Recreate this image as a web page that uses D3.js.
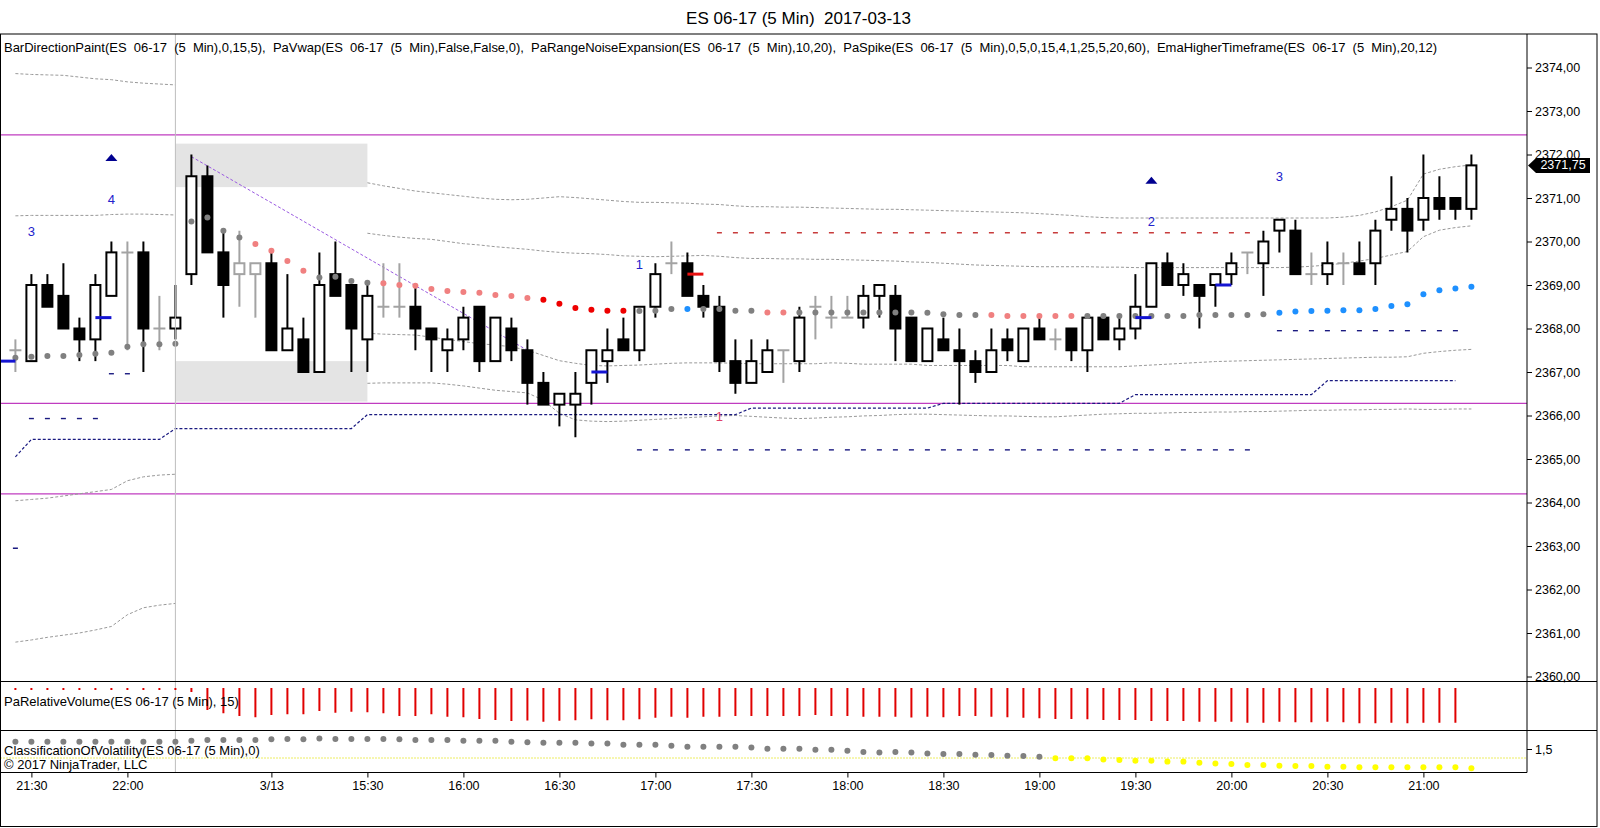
<!DOCTYPE html>
<html>
<head>
<meta charset="utf-8">
<script src="https://cdn.jsdelivr.net/npm/d3@7"></script>
<style>
  body { margin: 0; background: #fff; }
  text { font-family: "Liberation Sans", Arial, sans-serif; }
</style>
</head>
<body>
<div id="chart"></div>
<script>
// ---- price bars (5 min), index 0 = 21:25 of the evening session ----
const opens = [2367.5, 2367.25, 2369.0, 2368.75, 2368.0, 2367.75, 2368.75, 2369.75, 2369.75, 2368.0, 2368.0,
  2369.25, 2371.5, 2369.75, 2369.25, 2369.25, 2369.5, 2367.5, 2367.75, 2367.0, 2369.25, 2369.0,
  2367.75, 2368.5, 2368.5, 2368.5, 2368.0, 2367.5, 2367.75, 2368.5, 2367.25, 2368.0,
  2367.5, 2366.75, 2366.25, 2366.25, 2366.75, 2367.25, 2367.75, 2367.5, 2368.5, 2369.5,
  2369.5, 2368.75, 2368.5, 2367.25, 2366.75, 2367.0, 2367.5, 2367.25, 2368.5, 2368.25,
  2368.25, 2368.25, 2368.75, 2368.75, 2368.25, 2367.25, 2367.75, 2367.5, 2367.25, 2367.0,
  2367.75, 2367.25, 2368.0, 2367.75, 2368.0, 2367.5, 2368.25, 2367.75, 2368.0, 2368.5,
  2369.5, 2369.0, 2369.0, 2369.0, 2369.25, 2369.75, 2369.5, 2370.25, 2370.25, 2369.25,
  2369.25, 2369.5, 2369.5, 2369.5, 2370.5, 2370.75, 2370.5, 2371.0, 2371.0, 2370.75];
const highs = [2367.75, 2369.25, 2369.25, 2369.5, 2368.25, 2369.25, 2370.0, 2370.0, 2370.0, 2368.75, 2369.0,
  2372.0, 2371.75, 2370.25, 2370.25, 2369.5, 2369.75, 2369.25, 2368.25, 2369.75, 2370.0, 2369.0,
  2369.0, 2369.5, 2369.5, 2369.0, 2368.0, 2368.0, 2368.5, 2368.5, 2368.25, 2368.25,
  2367.75, 2367.0, 2366.5, 2367.0, 2367.5, 2368.0, 2368.25, 2368.5, 2369.5, 2370.0,
  2369.75, 2369.0, 2368.75, 2367.75, 2367.75, 2367.75, 2367.5, 2368.5, 2368.75, 2368.75,
  2368.75, 2369.0, 2369.0, 2369.0, 2368.25, 2368.0, 2368.25, 2368.0, 2367.5, 2368.0,
  2368.0, 2368.0, 2368.25, 2368.0, 2368.0, 2368.25, 2368.25, 2368.25, 2369.25, 2369.5,
  2369.75, 2369.5, 2369.0, 2369.25, 2369.75, 2369.75, 2370.25, 2370.5, 2370.5, 2369.75,
  2370.0, 2369.75, 2370.0, 2370.5, 2371.5, 2371.0, 2372.0, 2371.5, 2371.0, 2372.0];
const lows = [2367.0, 2367.25, 2368.5, 2368.0, 2367.25, 2367.25, 2368.75, 2367.5, 2367.0, 2367.5, 2367.75,
  2369.0, 2369.75, 2368.25, 2368.5, 2368.25, 2367.5, 2367.5, 2367.0, 2367.0, 2368.75, 2367.0,
  2367.0, 2368.25, 2368.25, 2367.5, 2367.0, 2367.0, 2367.5, 2367.0, 2367.25, 2367.25,
  2366.25, 2366.25, 2365.75, 2365.5, 2366.25, 2366.75, 2367.5, 2367.25, 2368.25, 2369.25,
  2368.75, 2368.25, 2367.0, 2366.5, 2366.75, 2367.0, 2366.75, 2367.0, 2367.75, 2368.0,
  2368.25, 2368.0, 2368.25, 2367.25, 2367.25, 2367.25, 2367.5, 2366.25, 2366.75, 2367.0,
  2367.25, 2367.25, 2367.75, 2367.5, 2367.25, 2367.0, 2367.75, 2367.5, 2367.75, 2368.5,
  2369.0, 2368.75, 2368.0, 2368.5, 2369.0, 2369.25, 2368.75, 2369.75, 2369.25, 2369.0,
  2369.0, 2369.0, 2369.25, 2369.0, 2370.25, 2369.75, 2370.25, 2370.5, 2370.5, 2370.5];
const closes = [2367.5, 2369.0, 2368.5, 2368.0, 2367.75, 2369.0, 2369.75, 2369.75, 2368.0, 2368.0, 2368.25,
  2371.5, 2369.75, 2369.0, 2369.5, 2369.5, 2367.5, 2368.0, 2367.0, 2369.0, 2368.75, 2368.0,
  2368.75, 2368.5, 2368.5, 2368.0, 2367.75, 2367.75, 2368.25, 2367.25, 2368.25, 2367.5,
  2366.75, 2366.25, 2366.5, 2366.5, 2367.5, 2367.5, 2367.5, 2368.5, 2369.25, 2369.5,
  2368.75, 2368.5, 2367.25, 2366.75, 2367.25, 2367.5, 2367.5, 2368.25, 2368.5, 2368.25,
  2368.25, 2368.75, 2369.0, 2368.0, 2367.25, 2368.0, 2367.5, 2367.25, 2367.0, 2367.5,
  2367.5, 2368.0, 2367.75, 2367.75, 2367.5, 2368.25, 2367.75, 2368.0, 2368.5, 2369.5,
  2369.0, 2369.25, 2368.75, 2369.25, 2369.5, 2369.75, 2370.0, 2370.5, 2369.25, 2369.25,
  2369.5, 2369.5, 2369.25, 2370.25, 2370.75, 2370.25, 2371.0, 2370.75, 2370.75, 2371.75];
// bars painted neutral by BarDirectionPaint although open != close
const neutralBars = [14, 15];

// ---- PaVwap and its bands ----
const vwap = [2367.33, 2367.35, 2367.37, 2367.37, 2367.39, 2367.42, 2367.44, 2367.58, 2367.64, 2367.64, 2367.65,
  2370.46, 2370.55, 2370.25, 2370.09, 2369.94, 2369.79, 2369.55, 2369.33, 2369.17, 2369.19, 2369.09,
  2369.05, 2369.04, 2369.0, 2368.98, 2368.91, 2368.86, 2368.84, 2368.82, 2368.77, 2368.75,
  2368.7, 2368.66, 2368.57, 2368.47, 2368.43, 2368.41, 2368.41, 2368.4, 2368.41, 2368.45,
  2368.45, 2368.45, 2368.45, 2368.41, 2368.41, 2368.37, 2368.37, 2368.37, 2368.37, 2368.37,
  2368.37, 2368.37, 2368.37, 2368.37, 2368.37, 2368.36, 2368.33, 2368.31, 2368.31, 2368.31,
  2368.29, 2368.29, 2368.29, 2368.29, 2368.29, 2368.29, 2368.29, 2368.29, 2368.29, 2368.29,
  2368.29, 2368.29, 2368.31, 2368.31, 2368.31, 2368.31, 2368.33, 2368.36, 2368.39, 2368.4,
  2368.41, 2368.42, 2368.42, 2368.45, 2368.52, 2368.56, 2368.79, 2368.88, 2368.92, 2368.96];
// g gray, p pink, r red, b blue
const vwapColorCodes = ("ggggggggggg" + "ggggppppggg" + "gppppppppp" + "prrrrrrggg" + "bggggppggg" +
  "gggggggggp" + "pppppggggg" + "gggggggbbb" + "bbbbbbbbbb").split("");
const upper2 = [2373.86, 2373.84, 2373.83, 2373.82, 2373.78, 2373.74, 2373.72, 2373.67, 2373.64, 2373.62, 2373.6,
  null, null, null, null, null, null, null, null, null, null, null,
  2371.35, 2371.28, 2371.22, 2371.16, 2371.12, 2371.08, 2371.04, 2371.0, 2370.97, 2370.96,
  2370.97, 2371.0, 2371.03, 2371.01, 2370.98, 2370.95, 2370.92, 2370.9, 2370.9, 2370.89,
  2370.88, 2370.86, 2370.85, 2370.82, 2370.8, 2370.8, 2370.79, 2370.79, 2370.78, 2370.77,
  2370.76, 2370.75, 2370.74, 2370.74, 2370.73, 2370.72, 2370.71, 2370.7, 2370.69, 2370.68,
  2370.67, 2370.66, 2370.64, 2370.62, 2370.6, 2370.57, 2370.55, 2370.54, 2370.54, 2370.54,
  2370.54, 2370.54, 2370.54, 2370.54, 2370.54, 2370.54, 2370.54, 2370.54, 2370.54, 2370.54,
  2370.54, 2370.56, 2370.6, 2370.68, 2370.8, 2370.95, 2371.55, 2371.66, 2371.72, 2371.76];
const upper1 = [2370.59, 2370.6, 2370.6, 2370.6, 2370.6, 2370.6, 2370.62, 2370.63, 2370.63, 2370.62, 2370.61,
  null, null, null, null, null, null, null, null, null, null, null,
  2370.19, 2370.14, 2370.1, 2370.07, 2370.05, 2370.0, 2369.95, 2369.92, 2369.88, 2369.85,
  2369.82, 2369.78, 2369.75, 2369.73, 2369.72, 2369.7, 2369.67, 2369.66, 2369.65, 2369.66,
  2369.67, 2369.68, 2369.66, 2369.63, 2369.61, 2369.61, 2369.6, 2369.6, 2369.59, 2369.59,
  2369.58, 2369.57, 2369.56, 2369.55, 2369.53, 2369.52, 2369.5, 2369.48, 2369.46, 2369.45,
  2369.44, 2369.43, 2369.42, 2369.42, 2369.42, 2369.42, 2369.41, 2369.41, 2369.4, 2369.4,
  2369.4, 2369.4, 2369.4, 2369.4, 2369.4, 2369.4, 2369.4, 2369.4, 2369.41, 2369.43,
  2369.46, 2369.5, 2369.55, 2369.61, 2369.69, 2369.77, 2370.11, 2370.26, 2370.32, 2370.36];
const lower1 = [2364.04, 2364.07, 2364.1, 2364.15, 2364.2, 2364.25, 2364.3, 2364.5, 2364.59, 2364.63, 2364.65,
  null, null, null, null, null, null, null, null, null, null, null,
  2367.89, 2367.87, 2367.86, 2367.85, 2367.8, 2367.75, 2367.7, 2367.65, 2367.62, 2367.58,
  2367.5, 2367.38, 2367.26, 2367.2, 2367.15, 2367.14, 2367.15, 2367.16, 2367.18, 2367.2,
  2367.21, 2367.21, 2367.21, 2367.2, 2367.19, 2367.19, 2367.19, 2367.19, 2367.19, 2367.21,
  2367.2, 2367.18, 2367.18, 2367.18, 2367.18, 2367.15, 2367.15, 2367.15, 2367.15, 2367.15,
  2367.15, 2367.12, 2367.12, 2367.12, 2367.12, 2367.12, 2367.12, 2367.12, 2367.14, 2367.16,
  2367.18, 2367.2, 2367.22, 2367.24, 2367.25, 2367.26, 2367.27, 2367.28, 2367.29, 2367.3,
  2367.31, 2367.32, 2367.33, 2367.34, 2367.34, 2367.35, 2367.43, 2367.47, 2367.5, 2367.52];
const lower2 = [2360.79, 2360.84, 2360.9, 2360.95, 2361.0, 2361.07, 2361.15, 2361.42, 2361.58, 2361.64, 2361.68,
  null, null, null, null, null, null, null, null, null, null, null,
  2366.74, 2366.75, 2366.75, 2366.75, 2366.75, 2366.72, 2366.68, 2366.63, 2366.58, 2366.55,
  2366.52, 2366.35, 2366.05, 2365.9, 2365.87, 2365.86, 2365.87, 2365.89, 2365.91, 2365.93,
  2365.95, 2365.97, 2365.99, 2366.0, 2365.98, 2365.96, 2365.94, 2365.93, 2365.94, 2365.96,
  2365.97, 2365.99, 2366.0, 2366.02, 2366.03, 2366.03, 2366.02, 2366.01, 2366.0, 2365.99,
  2365.99, 2365.98, 2365.97, 2365.97, 2365.99, 2366.01, 2366.03, 2366.04, 2366.05, 2366.05,
  2366.06, 2366.07, 2366.07, 2366.08, 2366.08, 2366.09, 2366.09, 2366.1, 2366.11, 2366.12,
  2366.12, 2366.13, 2366.13, 2366.14, 2366.14, 2366.15, 2366.14, 2366.14, 2366.15, 2366.15];

// ---- EmaHigherTimeframe (steps) ----
const emaHtf = [2365.05, 2365.45, 2365.45, 2365.45, 2365.45, 2365.45, 2365.45, 2365.45, 2365.45, 2365.45, 2365.7,
  2365.7, 2365.7, 2365.7, 2365.7, 2365.7, 2365.7, 2365.7, 2365.7, 2365.7, 2365.7, 2365.7,
  2366.02, 2366.02, 2366.02, 2366.02, 2366.02, 2366.02, 2366.02, 2366.02, 2366.02, 2366.02,
  2366.02, 2366.02, 2366.02, 2366.02, 2366.02, 2366.02, 2366.02, 2366.02, 2366.02, 2366.02,
  2366.02, 2366.02, 2366.02, 2366.02, 2366.17, 2366.17, 2366.17, 2366.17, 2366.17, 2366.17,
  2366.17, 2366.17, 2366.17, 2366.17, 2366.17, 2366.17, 2366.28, 2366.28, 2366.28, 2366.28,
  2366.28, 2366.28, 2366.28, 2366.28, 2366.28, 2366.28, 2366.28, 2366.28, 2366.48, 2366.48,
  2366.48, 2366.48, 2366.48, 2366.48, 2366.48, 2366.48, 2366.48, 2366.48, 2366.48, 2366.48,
  2366.8, 2366.8, 2366.8, 2366.8, 2366.8, 2366.8, 2366.8, 2366.8, 2366.8, null];

// ---- PaSpike level dashes (one short dash per bar) ----
const levelFrom = [0, 1, 6, 39, 44, 79];
const levelTo = [0, 5, 7, 77, 77, 90];
const levelPrice = [2362.95, 2365.93, 2366.96, 2365.21, 2370.2, 2367.95];
const levelColor = ["#1a1a80", "#1a1a80", "#1a1a80", "#1a1a80", "#c83c3c", "#1a1a80"];

// ---- spike markers (bar to next bar) ----
const markFrom = [-1, 5, 36, 42, 70, 75];
const markPrice = [2367.25, 2368.25, 2367.0, 2369.25, 2368.25, 2369.0];
const markColor = ["#1414d2", "#1414d2", "#1414d2", "#e81010", "#1414d2", "#1414d2"];

// ---- swing counts and arrows ----
const labelBars = [1, 6, 39, 44, 71, 79];
const labelPrices = [2370.24, 2370.97, 2369.48, 2365.97, 2370.47, 2371.49];
const labelTexts = ["3", "4", "1", "1", "2", "3"];
const labelColors = ["#2222cc", "#2222cc", "#2222cc", "#e0406a", "#2222cc", "#2222cc"];
const triBars = [6, 71];
const triPrices = [2371.93, 2371.41];

// ---- PaRangeNoiseExpansion boxes, trend line, pivot lines ----
const boxFrom = [10, 10];
const boxTo = [22, 22];
const boxTops = [2372.25, 2367.25];
const boxBottoms = [2371.25, 2366.32];
const trendBars = [11, 32];
const trendPrices = [2371.95, 2367.5];
const pivotLevels = [2372.45, 2366.28, 2364.2];
const sessionBreakBar = 10;

// ---- lower panels ----
const relVolume = [0.08, 0.08, 0.08, 0.08, 0.08, 0.08, 0.08, 0.08, 0.08, 0.08, 0.08,
  0.16, 0.88, 1.01, 1.12, 1.17, 1.08, 1.05, 1.05, 0.92, 0.99, 0.95,
  0.97, 1.01, 1.12, 1.12, 1.05, 1.15, 1.17, 1.24, 1.28, 1.32,
  1.30, 1.35, 1.31, 1.29, 1.25, 1.29, 1.29, 1.25, 1.19, 1.15,
  1.19, 1.15, 1.15, 1.12, 1.12, 1.12, 1.12, 1.12, 1.08, 1.12,
  1.12, 1.15, 1.15, 1.15, 1.18, 1.15, 1.17, 1.12, 1.12, 1.15,
  1.17, 1.19, 1.21, 1.24, 1.24, 1.25, 1.28, 1.28, 1.28, 1.32,
  1.32, 1.32, 1.35, 1.35, 1.35, 1.39, 1.39, 1.35, 1.37, 1.37,
  1.35, 1.37, 1.41, 1.41, 1.39, 1.41, 1.39, 1.39, 1.39, null];
const volatility = [1.70, 1.70, 1.70, 1.70, 1.70, 1.70, 1.70, 1.70, 1.70, 1.70, 1.70,
  1.73, 1.75, 1.75, 1.75, 1.75, 1.77, 1.78, 1.77, 1.79, 1.78, 1.78,
  1.78, 1.78, 1.77, 1.75, 1.75, 1.75, 1.73, 1.73, 1.73, 1.70,
  1.69, 1.675, 1.675, 1.675, 1.65, 1.65, 1.62, 1.62, 1.62, 1.59,
  1.56, 1.56, 1.56, 1.56, 1.54, 1.51, 1.51, 1.51, 1.48, 1.48,
  1.45, 1.42, 1.40, 1.42, 1.40, 1.375, 1.36, 1.36, 1.34, 1.33,
  1.31, 1.305, 1.285, 1.245, 1.24, 1.24, 1.21, 1.195, 1.175, 1.175,
  1.15, 1.15, 1.12, 1.10, 1.085, 1.055, 1.055, 1.035, 1.03, 1.03,
  1.01, 1.01, 0.99, 0.99, 0.99, 0.99, 0.99, 0.99, 0.99, 0.965];
const volatilityThreshold = 1.25;

// ---- axis ticks ----
const tickBars = [1, 7, 16, 22, 28, 34, 40, 46, 52, 58, 64, 70, 76, 82, 88];
const tickLabels = ["21:30", "22:00", "3/13", "15:30", "16:00", "16:30", "17:00", "17:30", "18:00",
  "18:30", "19:00", "19:30", "20:00", "20:30", "21:00"];
const priceTicks = [2360, 2361, 2362, 2363, 2364, 2365, 2366, 2367, 2368, 2369, 2370, 2371, 2372, 2373, 2374];
const lastPrice = 2371.75;

// ---- layout ----
const W = 1600, H = 828;
const frameTop = 34, mainBottom = 681.5, volBottom = 730.5, oscBottom = 772.5, frameBottom = 826.5;
const axisX = 1527, frameRight = 1597;

const svg = d3.select("#chart")
  .append("svg")
  .attr("width", W)
  .attr("height", H);

const x = d3.scaleLinear().domain([0, 91]).range([15.4, 1471.4]);
const y = d3.scaleLinear().domain([2360, 2374]).range([676.5, 67.5]);
const yVol = d3.scaleLinear().domain([0, 2]).range([688, 738]);
const yOsc = d3.scaleLinear().domain([1, 2]).range([767, 731]);

const commaFmt = f => v => d3.format(f)(v).replace(".", ",");

// title
svg.append("text")
  .attr("x", frameRight / 2)
  .attr("y", 18)
  .attr("text-anchor", "middle")
  .attr("dominant-baseline", "central")
  .attr("font-size", "17px")
  .style("white-space", "pre")
  .text("ES 06-17 (5 Min)  2017-03-13");

// clip for main price panel
svg.append("clipPath").attr("id", "clipMain")
  .append("rect")
  .attr("x", 0).attr("y", frameTop)
  .attr("width", axisX).attr("height", mainBottom - frameTop);

const main = svg.append("g").attr("clip-path", "url(#clipMain)");

// range boxes
boxTops.forEach((top, k) => {
  main.append("rect")
    .attr("x", x(boxFrom[k]))
    .attr("y", y(top))
    .attr("width", x(boxTo[k]) - x(boxFrom[k]))
    .attr("height", y(boxBottoms[k]) - y(top))
    .attr("fill", "#e4e4e4");
});

// pivot lines
pivotLevels.forEach(p => {
  main.append("line")
    .attr("x1", 0).attr("x2", axisX)
    .attr("y1", y(p)).attr("y2", y(p))
    .attr("stroke", "#c03cc0")
    .attr("stroke-width", 1.3);
});

// session break
svg.append("line")
  .attr("x1", x(sessionBreakBar)).attr("x2", x(sessionBreakBar))
  .attr("y1", frameTop).attr("y2", oscBottom)
  .attr("stroke", "#bdbdbd")
  .attr("stroke-width", 1);

// vwap bands
const bandLine = d3.line()
  .defined(d => d != null)
  .x((d, i) => x(i))
  .y(d => y(d));

[upper2, upper1, lower1, lower2].forEach(band => {
  main.append("path")
    .datum(band)
    .attr("d", bandLine)
    .attr("fill", "none")
    .attr("stroke", "#999")
    .attr("stroke-width", 1)
    .attr("stroke-dasharray", "3,2");
});

// higher timeframe ema
main.append("path")
  .datum(emaHtf)
  .attr("d", bandLine)
  .attr("fill", "none")
  .attr("stroke", "#1a1a80")
  .attr("stroke-width", 1.2)
  .attr("stroke-dasharray", "3,2");

// trend line
main.append("line")
  .attr("x1", x(trendBars[0])).attr("y1", y(trendPrices[0]))
  .attr("x2", x(trendBars[1])).attr("y2", y(trendPrices[1]))
  .attr("stroke", "#9a5ae0")
  .attr("stroke-width", 1)
  .attr("stroke-dasharray", "3,2");

// spike level dashes
levelFrom.forEach((from, k) => {
  d3.range(from, levelTo[k] + 1).forEach(b => {
    main.append("line")
      .attr("x1", x(b) - 2.5).attr("x2", x(b) + 2.5)
      .attr("y1", y(levelPrice[k])).attr("y2", y(levelPrice[k]))
      .attr("stroke", levelColor[k])
      .attr("stroke-width", 1.4);
  });
});

// candles
const gray = "#a3a3a3";
const bars = opens.map((o, i) => ({
  i, o, h: highs[i], l: lows[i], c: closes[i],
  neutral: o === closes[i] || neutralBars.includes(i)
}));

const candle = main.append("g").selectAll("g")
  .data(bars)
  .join("g");

candle.append("line")
  .attr("x1", d => x(d.i)).attr("x2", d => x(d.i))
  .attr("y1", d => y(d.h)).attr("y2", d => y(d.l))
  .attr("stroke", d => d.neutral ? gray : "#000")
  .attr("stroke-width", 2);

candle.filter(d => d.o === d.c)
  .append("line")
  .attr("x1", d => x(d.i) - 6).attr("x2", d => x(d.i) + 6)
  .attr("y1", d => y(d.o)).attr("y2", d => y(d.o))
  .attr("stroke", gray)
  .attr("stroke-width", 2);

candle.filter(d => d.o !== d.c)
  .append("rect")
  .attr("x", d => x(d.i) - 5)
  .attr("width", 10)
  .attr("y", d => y(Math.max(d.o, d.c)))
  .attr("height", d => Math.abs(y(d.o) - y(d.c)))
  .attr("fill", d => (d.c < d.o && !d.neutral) ? "#000" : "#fff")
  .attr("stroke", d => d.neutral ? gray : "#000")
  .attr("stroke-width", 2);

// vwap dots
const dotColor = { g: "#808080", p: "#f08080", r: "#ee0000", b: "#1e90ff" };
main.append("g").selectAll("circle")
  .data(vwap)
  .join("circle")
  .attr("cx", (d, i) => x(i))
  .attr("cy", d => y(d))
  .attr("r", 3)
  .attr("fill", (d, i) => dotColor[vwapColorCodes[i]]);

// spike markers
markFrom.forEach((b, k) => {
  main.append("line")
    .attr("x1", x(b)).attr("x2", x(b + 1))
    .attr("y1", y(markPrice[k])).attr("y2", y(markPrice[k]))
    .attr("stroke", markColor[k])
    .attr("stroke-width", 3);
});

// count labels
labelBars.forEach((b, k) => {
  main.append("text")
    .attr("x", x(b))
    .attr("y", y(labelPrices[k]))
    .attr("text-anchor", "middle")
    .attr("dominant-baseline", "central")
    .attr("font-size", "13px")
    .attr("fill", labelColors[k])
    .text(labelTexts[k]);
});

// arrows
triBars.forEach((b, k) => {
  const cx = x(b), cy = y(triPrices[k]);
  main.append("path")
    .attr("d", `M${cx - 6},${cy + 3.5}L${cx + 6},${cy + 3.5}L${cx},${cy - 3.5}Z`)
    .attr("fill", "#000090");
});

// header of the main panel
svg.append("text")
  .attr("x", 4)
  .attr("y", 47)
  .attr("dominant-baseline", "central")
  .attr("font-size", "13px")
  .attr("textLength", 1433)
  .attr("lengthAdjust", "spacing")
  .style("white-space", "pre")
  .text("BarDirectionPaint(ES  06-17  (5  Min),0,15,5),  PaVwap(ES  06-17  (5  Min),False,False,0),  PaRangeNoiseExpansion(ES  06-17  (5  Min),10,20),  PaSpike(ES  06-17  (5  Min),0,5,0,15,4,1,25,5,20,60),  EmaHigherTimeframe(ES  06-17  (5  Min),20,12)");

// relative volume panel
svg.append("g").selectAll("line")
  .data(relVolume.map((v, i) => ({ v, i })).filter(d => d.v != null))
  .join("line")
  .attr("x1", d => x(d.i)).attr("x2", d => x(d.i))
  .attr("y1", yVol(0)).attr("y2", d => yVol(d.v))
  .attr("stroke", "#e00000")
  .attr("stroke-width", 2);

svg.append("text")
  .attr("x", 4).attr("y", 701)
  .attr("dominant-baseline", "central")
  .attr("font-size", "13px")
  .text("PaRelativeVolume(ES 06-17 (5 Min), 15)");

// volatility panel
svg.append("line")
  .attr("x1", 0).attr("x2", axisX)
  .attr("y1", yOsc(volatilityThreshold)).attr("y2", yOsc(volatilityThreshold))
  .attr("stroke", "#eded60")
  .attr("stroke-width", 1)
  .attr("stroke-dasharray", "2,1");

svg.append("g").selectAll("circle")
  .data(volatility)
  .join("circle")
  .attr("cx", (d, i) => x(i))
  .attr("cy", d => yOsc(d))
  .attr("r", 3)
  .attr("fill", d => d < volatilityThreshold ? "#ffff00" : "#808080");

svg.append("text")
  .attr("x", 4).attr("y", 750)
  .attr("dominant-baseline", "central")
  .attr("font-size", "13px")
  .text("ClassificationOfVolatility(ES 06-17 (5 Min),0)");

svg.append("text")
  .attr("x", 4).attr("y", 764)
  .attr("dominant-baseline", "central")
  .attr("font-size", "13px")
  .text("© 2017 NinjaTrader, LLC");

// frame and panel dividers
svg.append("rect")
  .attr("x", 0.5).attr("y", frameTop)
  .attr("width", frameRight - 0.5).attr("height", frameBottom - frameTop)
  .attr("fill", "none")
  .attr("stroke", "#000");

[mainBottom, volBottom].forEach(yy => {
  svg.append("line")
    .attr("x1", 0).attr("x2", frameRight)
    .attr("y1", yy).attr("y2", yy)
    .attr("stroke", "#000");
});
svg.append("line")
  .attr("x1", 0).attr("x2", axisX)
  .attr("y1", oscBottom).attr("y2", oscBottom)
  .attr("stroke", "#000");
svg.append("line")
  .attr("x1", axisX).attr("x2", axisX)
  .attr("y1", frameTop).attr("y2", oscBottom)
  .attr("stroke", "#000");

// price axis
const priceAxis = svg.append("g")
  .attr("transform", `translate(${axisX},0)`)
  .call(d3.axisRight(y).tickValues(priceTicks).tickFormat(commaFmt(".2f")).tickSize(5).tickPadding(3));
priceAxis.select(".domain").remove();
priceAxis.selectAll("text").attr("font-size", "12.5px").attr("font-family", "Liberation Sans, Arial, sans-serif");

const oscAxis = svg.append("g")
  .attr("transform", `translate(${axisX},0)`)
  .call(d3.axisRight(yOsc).tickValues([1.5]).tickFormat(commaFmt(".1f")).tickSize(5).tickPadding(3));
oscAxis.select(".domain").remove();
oscAxis.selectAll("text").attr("font-size", "12.5px").attr("font-family", "Liberation Sans, Arial, sans-serif");

// last price marker
const yl = y(lastPrice);
svg.append("path")
  .attr("d", `M${axisX + 1},${yl}L${axisX + 9},${yl - 7.5}L1590,${yl - 7.5}L1590,${yl + 7.5}L${axisX + 9},${yl + 7.5}Z`)
  .attr("fill", "#000");
svg.append("text")
  .attr("x", 1563).attr("y", yl)
  .attr("text-anchor", "middle")
  .attr("dominant-baseline", "central")
  .attr("font-size", "12.5px")
  .attr("fill", "#fff")
  .text(commaFmt(".2f")(lastPrice));

// time axis
const timeAxis = svg.append("g")
  .attr("transform", `translate(0,${oscBottom})`)
  .call(d3.axisBottom(x).tickValues(tickBars).tickFormat((d, i) => tickLabels[i]).tickSize(5).tickPadding(4));
timeAxis.select(".domain").remove();
timeAxis.selectAll("text").attr("font-size", "12.5px").attr("font-family", "Liberation Sans, Arial, sans-serif");
</script>
</body>
</html>
